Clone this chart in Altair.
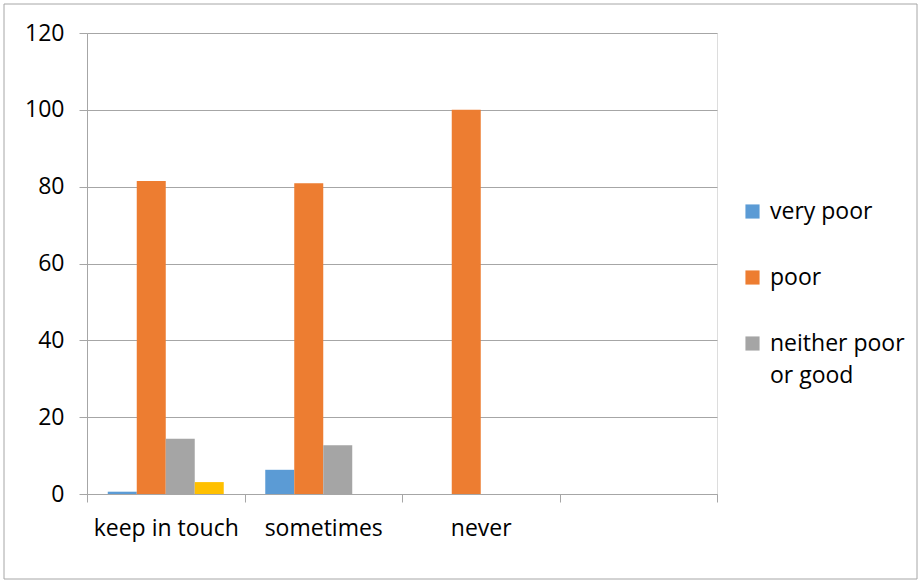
import altair as alt
import pandas as pd

# Response categories (the last slot is an empty category on the axis)
categories = ["keep in touch", "sometimes", "never", ""]
series = ["very poor", "poor", "neither poor or good", "good"]
legend_series = ["very poor", "poor", "neither poor or good"]
colors = ["#5B9BD5", "#ED7D31", "#A5A5A5", "#FFC000"]

very_poor = [0.6, 6.3, 0, 0]
poor = [81.5, 80.9, 100, 0]
neither = [14.4, 12.7, 0, 0]
good = [3.1, 0, 0, 0]

rows = []
for i, cat in enumerate(categories[:3]):
    for name, vals in zip(series, [very_poor, poor, neither, good]):
        rows.append({"category": cat, "series": name, "value": vals[i]})
df = pd.DataFrame(rows)

FONT = "Open Sans"
FONT_SIZE = 23
GRID = "#A6A6A6"

bars = alt.Chart(df).mark_bar(size=29).encode(
    x=alt.X(
        "category:N",
        sort=categories,
        scale=alt.Scale(domain=categories, paddingInner=0, paddingOuter=0),
        axis=alt.Axis(
            title=None, labelAngle=0, tickBand="extent", tickSize=8,
            tickColor=GRID, domainColor=GRID, labelPadding=15,
            labelFontSize=FONT_SIZE, labelFont=FONT, labelColor="black",
            grid=False,
        ),
    ),
    xOffset=alt.XOffset(
        "series:N", sort=series,
        scale=alt.Scale(domain=series, paddingInner=0, paddingOuter=0.716),
    ),
    y=alt.Y(
        "value:Q",
        scale=alt.Scale(domain=[0, 120], nice=False),
        axis=alt.Axis(
            title=None, values=[0, 20, 40, 60, 80, 100, 120], tickSize=8,
            tickColor=GRID, domainColor=GRID, gridColor=GRID, grid=True,
            labelPadding=15, labelFontSize=FONT_SIZE, labelFont=FONT,
            labelColor="black",
        ),
    ),
    color=alt.Color(
        "series:N",
        sort=series,
        scale=alt.Scale(domain=series, range=colors),
        legend=alt.Legend(
            title=None, values=legend_series, orient="none",
            legendX=654, legendY=167, symbolType="square", symbolSize=200,
            symbolStrokeWidth=0, labelFontSize=FONT_SIZE, labelFont=FONT,
            labelColor="black", rowPadding=42, labelOffset=6,
            labelLimit=300,
            labelExpr="datum.label == 'neither poor or good' ? ['neither poor', 'or good'] : datum.label",
        ),
    ),
)

# Thin border around the whole chart
frame = alt.Chart(pd.DataFrame({"a": [0]})).mark_rect(
    fill=None, stroke="#A6A6A6", strokeWidth=1
).encode(
    x=alt.value(-83), x2=alt.value(830), y=alt.value(-29), y2=alt.value(546)
)

chart = alt.layer(frame, bars).properties(
    width=630, height=461,
    padding={"left": 87, "top": 33, "right": 204, "bottom": 89},
    autosize=alt.AutoSizeParams(type="none"),
).configure_view(stroke=None).configure(
    style={"guide-label": {"lineHeight": 32}}
)

chart.save("out.html", embed_options={"renderer": "svg", "actions": False})
